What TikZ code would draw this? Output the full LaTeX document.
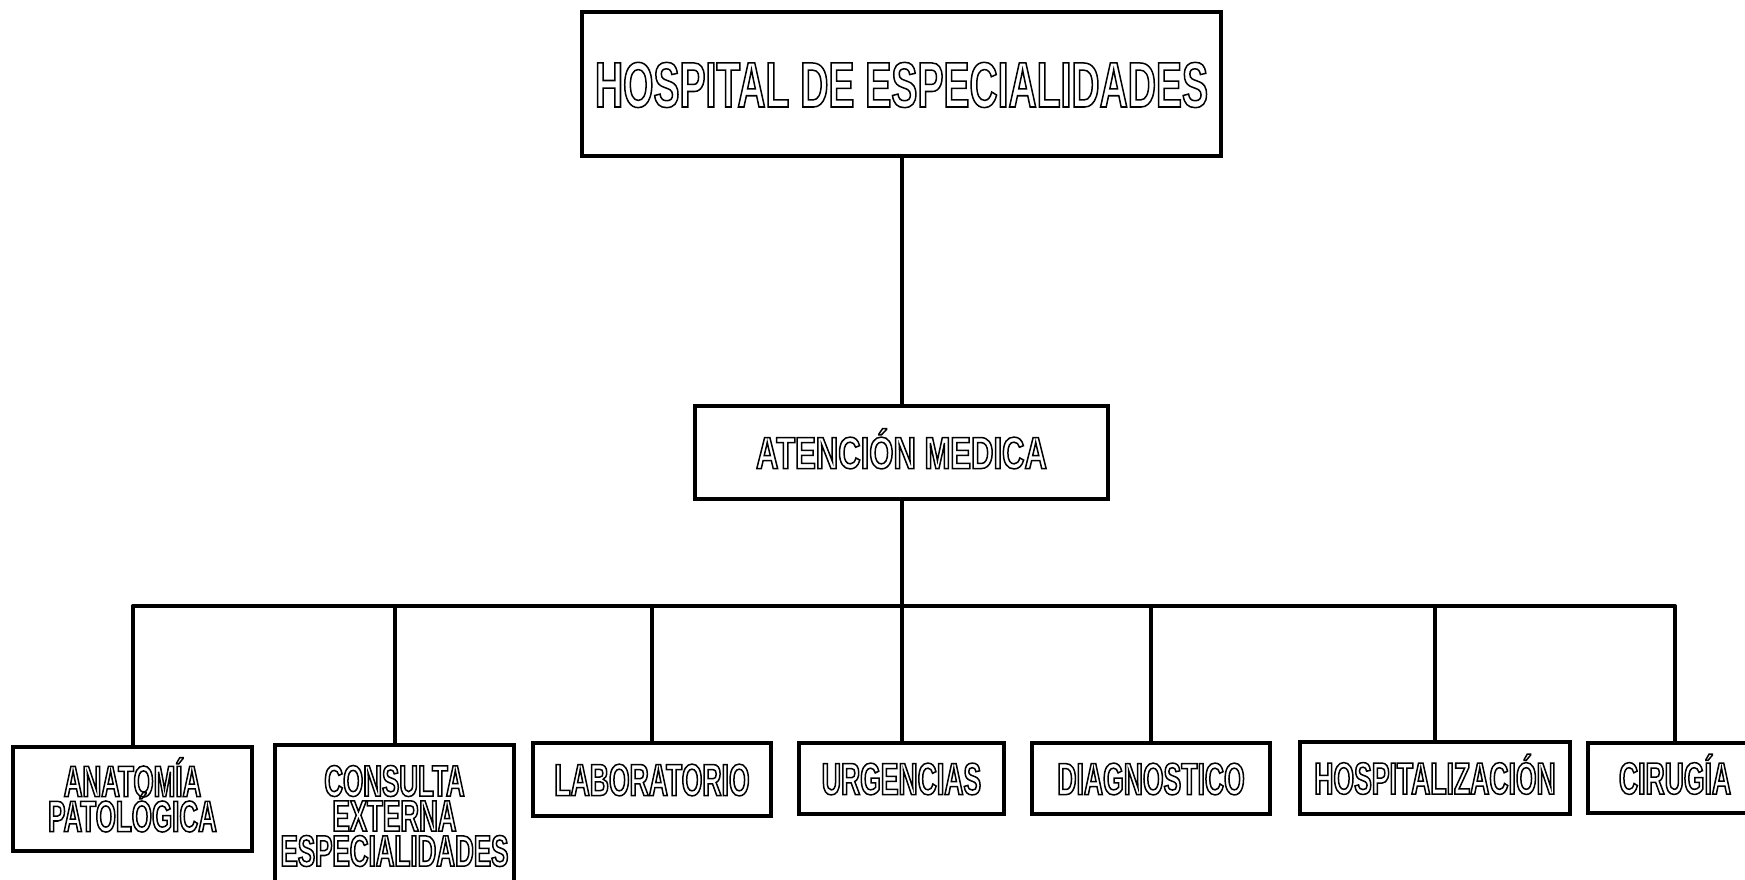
\documentclass[tikz,border=0pt]{standalone}
\usepackage{fontspec}
% condensed grotesque lettering for the chart boxes
\newfontfamily\orgfont[FakeStretch=0.59]{Liberation Sans Bold}
\newfontfamily\orgfonttop[FakeStretch=0.61]{Liberation Sans Bold}
\newfontfamily\orgfontwide[FakeStretch=0.69]{Liberation Sans Bold}
\newcommand{\topsize}{\orgfonttop\fontsize{64}{70}\selectfont}
\newcommand{\midsize}{\orgfontwide\fontsize{45}{34}\selectfont}
\newcommand{\leafsize}{\orgfont\fontsize{45}{35}\selectfont}
\newcommand{\stacksize}{\orgfont\fontsize{44}{35}\selectfont}
% letters drawn as outlines only (PDF text render mode 1)
\newcommand{\outlined}[1]{\special{pdf:literal direct 1 Tr 1.5 w}#1\special{pdf:literal direct 0 Tr}}
\lineskiplimit=-100pt
\begin{document}
\begin{tikzpicture}[x=1pt,y=-1pt,
  box/.style={draw=black, line width=4pt, rectangle, inner sep=0pt, align=center},
  oneline/.style={text height=32pt, text depth=0pt},
  wire/.style={draw=black, line width=4pt, line join=round}]
\fill[white] (0,0) rectangle (1745,880);
\useasboundingbox (0,0) rectangle (1745,880);
\clip (0,0) rectangle (1745,880);

% head of the organisation
\node[box, font=\topsize, text height=46pt, text depth=0pt,
      minimum width=639pt, minimum height=144pt] (top) at (901.5,84)
      {\outlined{HOSPITAL DE ESPECIALIDADES}};
\node[box, font=\midsize, oneline,
      minimum width=413pt, minimum height=93pt] (mid) at (901.5,452.5)
      {\outlined{ATENCIÓN MEDICA}};

% services
\node[box, font=\stacksize, minimum width=239pt, minimum height=104pt] (b1) at (132.5,799)
      {\outlined{ANATOM\smash{Í}A}\\\outlined{PATOLÓGICA}};
\node[box, font=\stacksize, minimum width=239pt, minimum height=142pt] (b2) at (394.5,816)
      {\outlined{CONSULTA}\\\outlined{EXTERNA}\\\outlined{ESPECIALIDADES}};
\node[box, font=\leafsize, oneline, minimum width=238pt, minimum height=73pt] (b3) at (652,779.5)
      {\outlined{LABORATORIO}};
\node[box, font=\leafsize, oneline, minimum width=205pt, minimum height=71pt] (b4) at (901.5,778.5)
      {\outlined{URGENCIAS}};
\node[box, font=\leafsize, oneline, minimum width=238pt, minimum height=71pt] (b5) at (1151,778.5)
      {\outlined{DIAGNOSTICO}};
\node[box, font=\leafsize, oneline, minimum width=270pt, minimum height=72pt] (b6) at (1435,778)
      {\outlined{HOSPITALIZACIÓN}};
\node[box, font=\leafsize, oneline, minimum width=174pt, minimum height=70pt] (b7) at (1675,778)
      {\outlined{CIRUGÍA}};

% connectors
\coordinate (bus) at (901.5,606);
\draw[wire] (top.south) -- (mid.north);
\draw[wire] (mid.south) -- (bus);
\draw[wire] (b1.north) |- (bus) -| (b7.north);
\foreach \n in {b2,b3,b4,b5,b6}
  \draw[wire] (\n.north |- bus) -- (\n.north);
\end{tikzpicture}
\end{document}
